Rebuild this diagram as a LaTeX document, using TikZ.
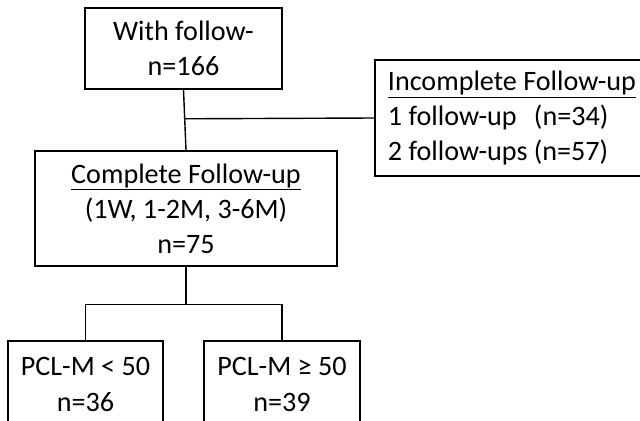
\documentclass[tikz,border=0pt]{standalone}
\usepackage{fontspec}
\setmainfont{Carlito}
\usepackage{tikz}
\usetikzlibrary{calc}

\tikzset{
  box/.style={draw, line width=1pt, align=center, inner sep=0pt,
    font=\fontsize{20}{25}\selectfont},
  link/.style={line width=1pt}
}

\begin{document}
\begin{tikzpicture}[x=0.025cm, y=-0.025cm]
\useasboundingbox (0,0) rectangle (640,421);
\clip (0,0) rectangle (640,421);
\node[box, minimum width=4.925cm, minimum height=2.025cm] (total) at (183.5,48.5) {With follow-\\n=166};
\node[box, minimum width=7.125cm, minimum height=2.9cm, align=flush left, text width=6.475cm] (partial) at (517.5,118)
  {\underline{Incomplete Follow-up}\\1 follow-up\phantom{s} (n=34)\\2 follow-ups (n=57)};
\node[box, minimum width=7.55cm, minimum height=2.875cm] (full) at (186,208.5)
  {\underline{Complete Follow-up}\\(1W, 1-2M, 3-6M)\\n=75};
\node[box, minimum width=3.875cm, minimum height=2.175cm] (low) at (85.5,384.5) {PCL-M < 50\\n=36};
\node[box, minimum width=3.9cm, minimum height=2.175cm] (high) at (282,384.5) {PCL-M ≥ 50\\n=39};
\coordinate (split) at ($(full.south)+(0,38)$);
\draw[link] (total.south) -- (full.north);
\draw[link] ($(total.south)!0.48!(full.north)$) -- (partial.west);
\draw[link] (full.south) -- (split);
\draw[link] (low.north) |- (split) -| (high.north);
\end{tikzpicture}
\end{document}
